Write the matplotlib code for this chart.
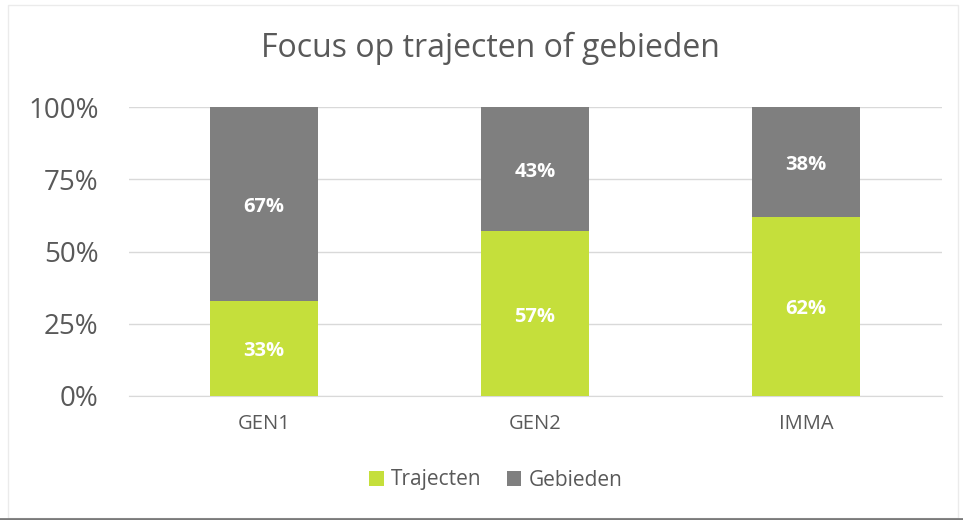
import matplotlib
matplotlib.use("Agg")
import matplotlib.pyplot as plt
from matplotlib.patches import Rectangle
from matplotlib.lines import Line2D
from matplotlib.transforms import offset_copy

categories = ["GEN1", "GEN2", "IMMA"]
trajecten = [33, 57, 62]
gebieden = [67, 43, 38]
yticks = [0, 25, 50, 75, 100]
ytick_labels = ["0%", "25%", "50%", "75%", "100%"]

green = "#C5DF3B"
gray = "#7F7F7F"
txt = "#595959"

plt.rcParams['font.family'] = ['Open Sans', 'DejaVu Sans']

fig = plt.figure(figsize=(9.63, 5.2), dpi=100)
# outer frame
fig.add_artist(Rectangle((8/963, 2/520), 950/963, 513/520, transform=fig.transFigure,
                         fill=False, edgecolor="#EBEBEB", linewidth=1))
fig.add_artist(Line2D([0, 1], [1.5/520, 1.5/520], transform=fig.transFigure,
                      color="#7A7A7A", linewidth=2))

ax = fig.add_axes([128.5/963, 1 - 396/520, 813/963, 289/520])
x = list(range(len(categories)))
w = 0.4
b1 = ax.bar(x, trajecten, width=w, color=green, label="Trajecten", zorder=3)
b2 = ax.bar(x, gebieden, width=w, bottom=trajecten, color=gray, label="Gebieden", zorder=3)

tr = offset_copy(ax.transData, fig=fig, x=0, y=-3, units="dots")
for xi, t, g in zip(x, trajecten, gebieden):
    ax.text(xi, t / 2, f"{t}%", ha="center", va="center", color="white",
            fontsize=14.5, fontweight="bold", zorder=4, transform=tr)
    ax.text(xi, t + g / 2, f"{g}%", ha="center", va="center", color="white",
            fontsize=14.5, fontweight="bold", zorder=4, transform=tr)

ax.set_xlim(-0.5, len(categories) - 0.5)
ax.set_ylim(0, 100)
ax.set_yticks(yticks)
ax.set_yticklabels(ytick_labels, fontsize=20, color=txt)
ax.set_xticks(x)
ax.set_xticklabels(categories, fontsize=14.5, color=txt)
ax.tick_params(length=0)
ax.tick_params(axis="y", pad=21.5)
ax.tick_params(axis="x", pad=13)
ax.grid(axis="y", color="#D9D9D9", linewidth=1, zorder=0)
for s in ["top", "right", "left"]:
    ax.spines[s].set_visible(False)
ax.spines["bottom"].set_color("#D9D9D9")

fig.text(490/963, 1 - 48/520, "Focus op trajecten of gebieden", ha="center", va="center",
         fontsize=23, color=txt)

leg = fig.legend(handles=[b1, b2], labels=["Trajecten", "Gebieden"], loc="center",
                 bbox_to_anchor=(496/963, 1 - 480/520), ncol=2, frameon=False,
                 fontsize=15, handlelength=0.7, handleheight=0.7, handletextpad=0.35,
                 columnspacing=1.2, labelcolor=txt)

fig.savefig("out.png", dpi=100, facecolor="white")
